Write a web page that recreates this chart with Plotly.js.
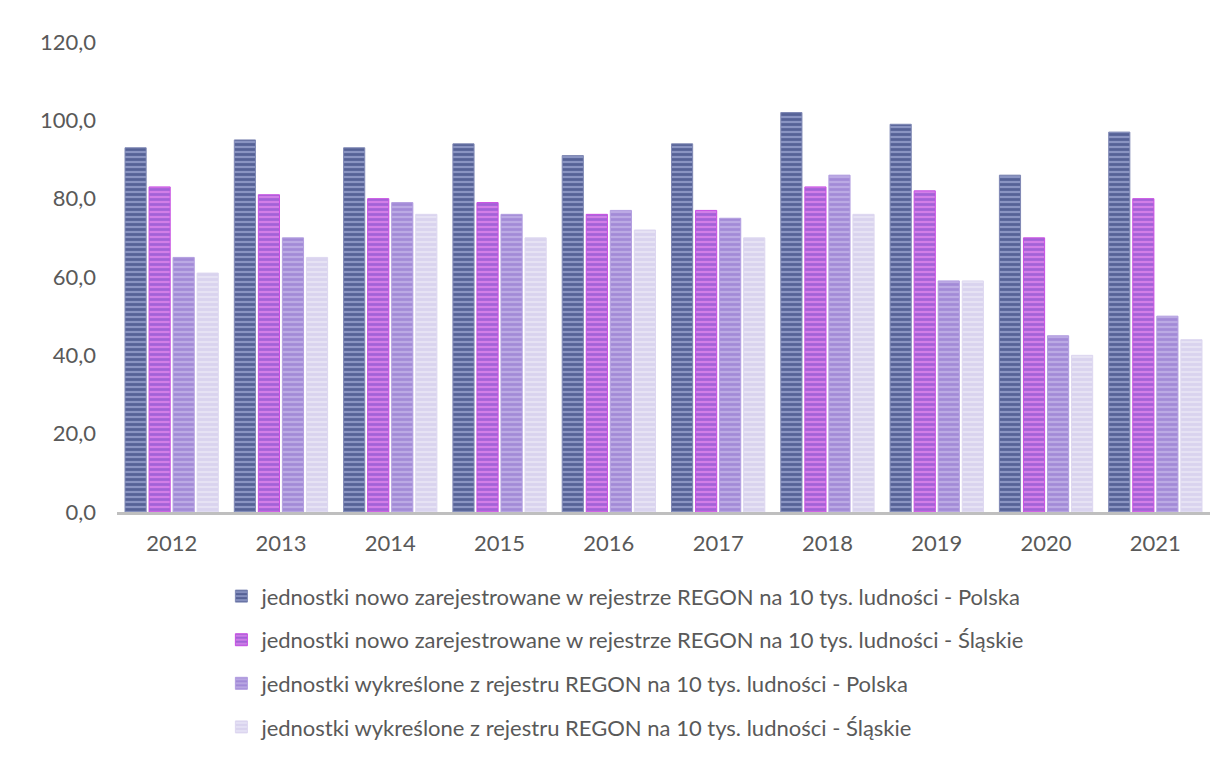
<!DOCTYPE html>
<html>
<head>
<meta charset="utf-8">
<script src="https://cdn.plot.ly/plotly-3.0.1.min.js"></script>
<style>body{margin:0;background:#fff}</style>
</head>
<body>
<div id="chart" style="width:1226px;height:760px"></div>
<script>
// lata i wartości
var years = ["2012","2013","2014","2015","2016","2017","2018","2019","2020","2021"];
var nowePolska   = [93, 95, 93, 94, 91, 94, 102, 99, 86, 97];
var noweSlaskie  = [83, 81, 80, 79, 76, 77, 83, 82, 70, 80];
var wykrPolska   = [65, 70, 79, 76, 77, 75, 86, 59, 45, 50];
var wykrSlaskie  = [61, 65, 76, 70, 72, 70, 76, 59, 40, 44];

var names = [
    "jednostki nowo zarejestrowane w rejestrze REGON na 10 tys. ludności - Polska",
    "jednostki nowo zarejestrowane w rejestrze REGON na 10 tys. ludności - Śląskie",
    "jednostki wykreślone z rejestru REGON na 10 tys. ludności - Polska",
    "jednostki wykreślone z rejestru REGON na 10 tys. ludności - Śląskie"
];

var series = [nowePolska, noweSlaskie, wykrPolska, wykrSlaskie];
var bg = ["#8a94c2", "#d27ee8", "#bba9e4", "#e6e2f4"];
var fg = ["#22306a", "#7446c6", "#8a6cca", "#cbc3e8"];
var edge = ["#7f88b4", "#c84ee2", "#b29ee0", "#ddd7f0"];

var data = series.map(function(vals, i) {
    return {
        x: years,
        y: vals,
        name: names[i],
        type: "bar",
        legendgroup: "g" + i,
        marker: {
            color: bg[i],
            line: {color: edge[i], width: 1},
            pattern: {shape: "-", fgcolor: fg[i], bgcolor: bg[i], size: 5, solidity: 0.55, fillmode: "overlay"}
        },
        hoverinfo: "x+y"
    };
});

var layout = {
    width: 1226,
    height: 760,
    margin: {l: 117, r: 16, t: 42, b: 248},
    paper_bgcolor: "#ffffff",
    plot_bgcolor: "#ffffff",
    font: {family: "Lato, 'Open Sans', sans-serif", size: 22, color: "#595959"},
    separators: ", ",
    barmode: "group",
    bargap: 0.12,
    bargroupgap: 0.12,
    showlegend: true,
    legend: {
        orientation: "v",
        x: 0.0955,
        xanchor: "left",
        yref: "container",
        y: 0.243,
        yanchor: "top",
        tracegroupgap: 12,
        font: {size: 22, color: "#595959"}
    },
    xaxis: {
        type: "category",
        showgrid: false,
        showline: true,
        linecolor: "#bfbfbf",
        linewidth: 3,
        ticks: "",
        ticklabelstandoff: 10,
        tickfont: {size: 22, color: "#595959"}
    },
    yaxis: {
        range: [0, 120],
        dtick: 20,
        tickformat: ".1f",
        showgrid: false,
        zeroline: false,
        showline: false,
        ticks: "",
        ticklabelstandoff: 20,
        tickfont: {size: 22, color: "#595959"}
    }
};

Plotly.newPlot("chart", data, layout, {displayModeBar: false});
</script>
</body>
</html>
